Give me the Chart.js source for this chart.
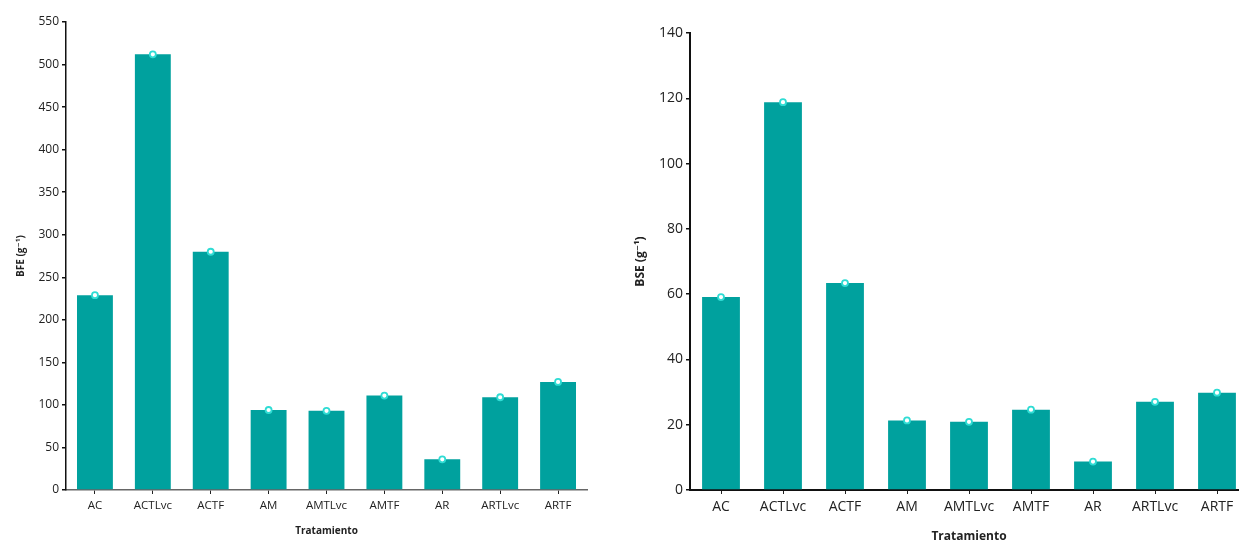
<!DOCTYPE html>
<html lang="es">
<head>
    <meta charset="UTF-8">
    <title>BFE y BSE por tratamiento</title>
    <style>
        html, body {
            margin: 0;
            padding: 0;
            background: #fff;
            overflow: hidden;
            width: 1239px;
            height: 542px;
        }
        #bfeChart { position: absolute; left: 0; top: 0; }
        #bseChart { position: absolute; left: 600px; top: 0; }
    </style>
    <script src="https://cdn.jsdelivr.net/npm/chart.js"></script>
</head>
<body>
    <canvas id="bfeChart" width="600" height="542"></canvas>
    <canvas id="bseChart" width="660" height="542"></canvas>

    <script>
        const tratamientos = ["AC", "ACTLvc", "ACTF", "AM", "AMTLvc", "AMTF", "AR", "ARTLvc", "ARTF"];
        const bfe = [229, 512, 280, 94, 93, 111, 36, 109, 127];
        const bse = [59.1, 118.8, 63.4, 21.3, 20.9, 24.6, 8.7, 27.0, 29.8];
        const ticksBfe = [0, 50, 100, 150, 200, 250, 300, 350, 400, 450, 500, 550];
        const ticksBse = [0, 20, 40, 60, 80, 100, 120, 140];

        const colorBarra = "#00a19e";
        const fuente = "'Open Sans', 'DejaVu Sans', sans-serif";

        function crearGrafico(id, valores, ticks, tituloY, cfg) {
            const ctx = document.getElementById(id).getContext("2d");
            return new Chart(ctx, {
                data: {
                    labels: tratamientos,
                    datasets: [
                        {
                            type: 'line',
                            data: valores,
                            showLine: false,
                            pointRadius: cfg.punto,
                            pointBackgroundColor: "#ffffff",
                            pointBorderColor: "#2fdcd4",
                            pointBorderWidth: 1.8,
                            order: 0
                        },
                        {
                            type: 'bar',
                            data: valores,
                            backgroundColor: colorBarra,
                            categoryPercentage: 1,
                            barPercentage: cfg.barra,
                            order: 1
                        }
                    ]
                },
                options: {
                    responsive: false,
                    animation: false,
                    devicePixelRatio: 1,
                    layout: { padding: { top: cfg.arriba, right: cfg.derecha, left: 0, bottom: 0 } },
                    plugins: { legend: { display: false }, tooltip: { enabled: false } },
                    scales: {
                        x: {
                            grid: { offset: false, drawOnChartArea: false, tickLength: 4, color: "#222", lineWidth: 1 },
                            border: { color: cfg.colorEjeX, width: cfg.ejeX },
                            ticks: { color: "#222", padding: cfg.padX, font: { family: fuente, size: cfg.fuenteX } },
                            title: {
                                display: true,
                                text: "Tratamiento",
                                color: "#222",
                                padding: { top: 0, bottom: cfg.padTituloX },
                                font: { family: fuente, size: cfg.fuenteTitulo, weight: 'bold', lineHeight: 1 }
                            },
                            afterFit: s => { s.height = 52; }
                        },
                        y: {
                            min: 0,
                            max: ticks[ticks.length - 1],
                            afterBuildTicks: s => { s.ticks = ticks.map(v => ({ value: v })); },
                            grid: { drawOnChartArea: false, tickLength: 4, color: "#111", lineWidth: 1.5 },
                            border: { color: "#111", width: cfg.ejeY },
                            ticks: { color: "#222", padding: 3, font: { family: fuente, size: cfg.fuenteY } },
                            title: {
                                display: true,
                                text: tituloY,
                                color: "#222",
                                padding: { top: cfg.padTituloY, bottom: 0 },
                                font: { family: fuente, size: cfg.fuenteTitulo, weight: 'bold', lineHeight: 1.2 }
                            },
                            afterFit: s => { s.width = cfg.anchoY; }
                        }
                    }
                }
            });
        }

        crearGrafico("bfeChart", bfe, ticksBfe, "BFE (g⁻¹)", {
            punto: 3, barra: 0.62, arriba: 22, derecha: 13,
            colorEjeX: "#666", ejeX: 1.5, ejeY: 1.5,
            padX: 5, fuenteX: 11.5, fuenteY: 12, fuenteTitulo: 10,
            padTituloX: 6, padTituloY: 15, anchoY: 66
        });

        crearGrafico("bseChart", bse, ticksBse, "BSE (g⁻¹)", {
            punto: 3, barra: 0.61, arriba: 33, derecha: 12,
            colorEjeX: "#111", ejeX: 2, ejeY: 2,
            padX: 5, fuenteX: 14, fuenteY: 14, fuenteTitulo: 12,
            padTituloX: -1, padTituloY: 33, anchoY: 90
        });
    </script>
</body>
</html>
